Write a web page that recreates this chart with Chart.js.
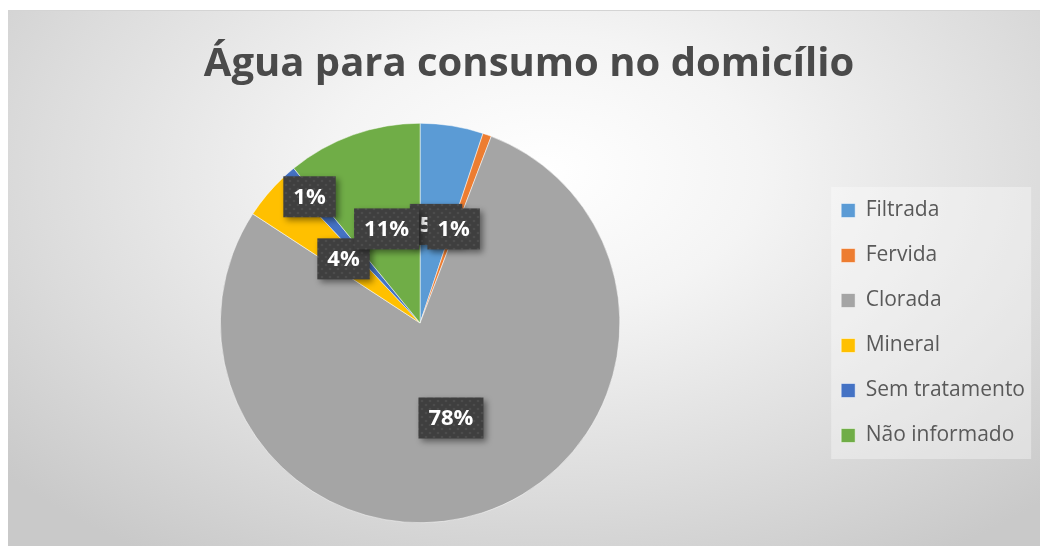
<!DOCTYPE html>
<html>
<head>
<meta charset="utf-8">
<script src="https://cdn.jsdelivr.net/npm/chart.js@4"></script>
<style>
  html, body { margin: 0; padding: 0; background: #ffffff; }
  #wrap {
    position: absolute; left: 8px; top: 10px; width: 1032px; height: 536px;
    background: radial-gradient(ellipse 70% 85% at 52% 30%, #ffffff 0%, #f4f4f4 30%, #dcdcdc 70%, #c9c9c9 100%);
    border-top: 1px solid #d4d4d4;
  }
</style>
</head>
<body>
<div id="wrap"><canvas id="chart" width="1032" height="536"></canvas></div>
<script>
// data (percent of households)
const categories = ['Filtrada', 'Fervida', 'Clorada', 'Mineral', 'Sem tratamento', 'Não informado'];
const shares = [5.1, 0.7, 78.4, 3.8, 1.1, 10.9];
const sliceColors = ['#5b9bd5', '#ed7d31', '#a5a5a5', '#ffc000', '#4472c4', '#70ad47'];
const chartTitle = 'Água para consumo no domicílio';

// small dotted texture used by the excel-ish label boxes
function makeBoxPattern(ctx) {
    const c = document.createElement('canvas');
    c.width = 8; c.height = 8;
    const p = c.getContext('2d');
    p.fillStyle = '#3f3f3f';
    p.fillRect(0, 0, 8, 8);
    p.fillStyle = '#4c4c4c';
    p.beginPath(); p.arc(2, 2, 1.3, 0, Math.PI * 2); p.fill();
    p.beginPath(); p.arc(6, 6, 1.3, 0, Math.PI * 2); p.fill();
    return ctx.createPattern(c, 'repeat');
}

const legendPanel = {
    id: 'legendPanel',
    beforeDraw: function (chart) {
        const boxes = chart.legend.legendHitBoxes;
        if (!boxes || !boxes.length) return;
        const ctx = chart.ctx;
        const first = boxes[0];
        const last = boxes[boxes.length - 1];
        const x = first.left - 10;
        const y = first.top - 13;
        const w = 200;
        const h = last.top + last.height - first.top + 26;
        ctx.save();
        ctx.fillStyle = 'rgba(255,255,255,0.35)';
        ctx.fillRect(x, y, w, h);
        ctx.restore();
    }
};

const boxLabels = {
    id: 'boxLabels',
    afterDatasetsDraw: function (chart, args, opts) {
        const ctx = chart.ctx;
        const meta = chart.getDatasetMeta(0);
        const values = chart.data.datasets[0].data;
        const total = values.reduce((a, b) => a + b, 0);
        const pattern = makeBoxPattern(ctx);
        ctx.save();
        ctx.font = 'bold 22px "Open Sans"';
        ctx.textAlign = 'center';
        ctx.textBaseline = 'middle';
        meta.data.forEach((arc, i) => {
            const p = arc.getProps(['x', 'y', 'startAngle', 'endAngle', 'outerRadius'], true);
            const mid = (p.startAngle + p.endAngle) / 2;
            const r = p.outerRadius * opts.radius[i];
            const cx = p.x + Math.cos(mid) * r;
            const cy = p.y + Math.sin(mid) * r;
            const text = Math.round(values[i] / total * 100) + '%';
            const tw = ctx.measureText(text).width;
            const bw = tw + 20;
            const bh = 41;
            ctx.save();
            ctx.shadowColor = 'rgba(0,0,0,0.45)';
            ctx.shadowBlur = 6;
            ctx.shadowOffsetX = 3;
            ctx.shadowOffsetY = 3;
            ctx.fillStyle = pattern;
            ctx.fillRect(cx - bw / 2, cy - bh / 2, bw, bh);
            ctx.restore();
            ctx.fillStyle = '#ffffff';
            ctx.fillText(text, cx, cy + 1);
        });
        ctx.restore();
    }
};

new Chart(document.getElementById('chart'), {
    type: 'pie',
    data: {
        labels: categories,
        datasets: [{
            data: shares,
            backgroundColor: sliceColors,
            borderColor: '#ffffff',
            borderWidth: 0.5
        }]
    },
    options: {
        responsive: false,
        animation: false,
        layout: {
            padding: { top: 0, left: 15, right: 5, bottom: 24 }
        },
        plugins: {
            title: {
                display: true,
                text: chartTitle,
                color: '#4a4a4a',
                font: { family: '"Open Sans"', size: 40, weight: 'bold' },
                padding: { top: 30, bottom: 34 }
            },
            legend: {
                position: 'right',
                fullSize: false,
                labels: {
                    color: '#595959',
                    font: { family: '"Open Sans"', size: 21 },
                    boxWidth: 14,
                    boxHeight: 14,
                    padding: 24
                }
            },
            tooltip: { enabled: false },
            boxLabels: {
                radius: [0.5, 0.5, 0.5, 0.5, 0.84, 0.5]
            }
        }
    },
    plugins: [legendPanel, boxLabels]
});
</script>
</body>
</html>
